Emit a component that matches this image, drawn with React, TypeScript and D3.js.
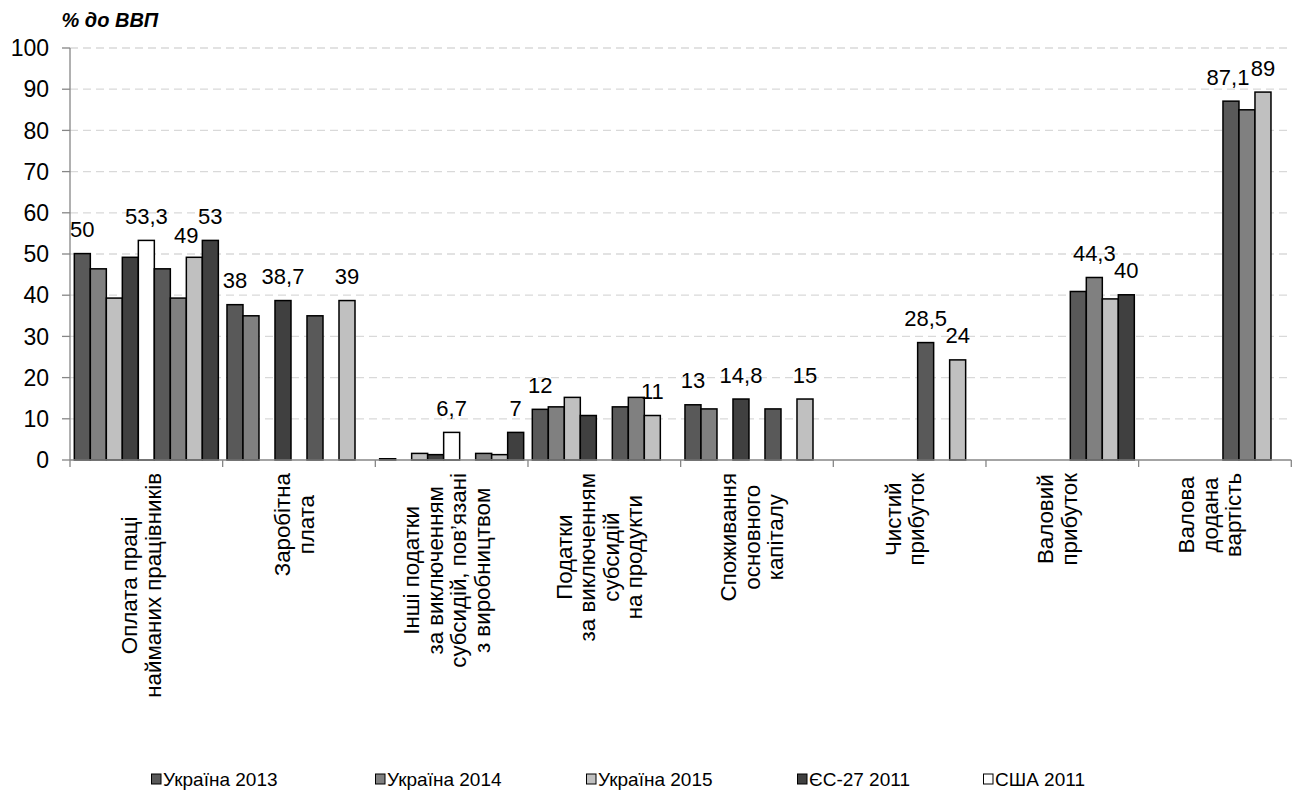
import React from "react";
import * as d3 from "d3";

// ---------- DATA ----------
const categories: string[][] = [
  ["Оплата праці", "найманих працівників"],
  ["Заробітна", "плата"],
  ["Інші податки", "за виключенням", "субсидій, пов’язані", "з виробництвом"],
  ["Податки", "за виключенням", "субсидій", "на продукти"],
  ["Споживання", "основного", "капіталу"],
  ["Чистий", "прибуток"],
  ["Валовий", "прибуток"],
  ["Валова", "додана", "вартість"],
];

const legendNames = ["Україна 2013", "Україна 2014", "Україна 2015", "ЄС-27 2011", "США 2011"];

// nine bar slots per category; slots 6-9 reuse the styles of series 1-4
const slot1 = [50.1, 37.7, 0.3, 12.3, 13.4, null, null, null];
const slot2 = [46.4, 35.0, null, 12.9, 12.4, null, null, null];
const slot3 = [39.3, null, 1.6, 15.2, null, null, null, null];
const slot4 = [49.2, 38.7, 1.3, 10.8, 14.8, null, null, null];
const slot5 = [53.3, null, 6.7, null, null, null, null, null];
const slot6 = [46.4, 35.0, null, 12.9, 12.4, 28.5, 40.9, 87.1];
const slot7 = [39.3, null, 1.6, 15.2, null, null, 44.3, 85.0];
const slot8 = [49.2, 38.7, 1.3, 10.8, 14.8, 24.3, 39.1, 89.3];
const slot9 = [53.3, null, 6.7, null, null, null, 40.1, null];
const slots: (number | null)[][] = [slot1, slot2, slot3, slot4, slot5, slot6, slot7, slot8, slot9];
const slotSeries = [0, 1, 2, 3, 4, 0, 1, 2, 3];

const labelCats = [0, 0, 0, 0, 1, 1, 1, 2, 2, 3, 3, 4, 4, 4, 5, 5, 6, 6, 7, 7];
const labelSlots = [0, 4, 7, 8, 0, 3, 7, 4, 8, 0, 7, 0, 3, 7, 5, 7, 6, 8, 5, 7];
const labelTexts = ["50", "53,3", "49", "53", "38", "38,7", "39", "6,7", "7", "12", "11", "13", "14,8", "15", "28,5", "24", "44,3", "40", "87,1", "89"];

const yTicks = [0, 10, 20, 30, 40, 50, 60, 70, 80, 90, 100];

// ---------- STYLE / LAYOUT ----------
const fills = ["#595959", "#808080", "#c0c0c0", "#404040", "#ffffff"];
const FONT = "'Liberation Sans', Arial, Helvetica, sans-serif";
// manual nudges of a few data labels (index -> [dx, dy])
const labelNudge: Record<number, [number, number]> = { 2: [-8, 2.5], 18: [-3, 0] };

function measure(text: string, size: number) {
  const c = document.createElement("canvas").getContext("2d")!;
  c.font = `${size}px 'Liberation Sans', Arial, sans-serif`;
  return c.measureText(text).width;
}

export default function App() {
  const W = 1298, H = 803;
  const left = 70, right = 1291.3, top = 48, bottom = 460;
  const y = d3.scaleLinear().domain([0, 100]).range([bottom, top]);
  const x = d3.scaleBand<number>().domain(d3.range(categories.length)).range([left, right]).paddingInner(0).paddingOuter(0);
  const xi = d3.scaleBand<number>().domain(d3.range(slots.length)).range([0, x.bandwidth()]).paddingInner(0).paddingOuter(0.27);

  const catFs = 22.3;
  const lineH = 23.5;
  const legendX = [151, 375, 586, 797, 983];

  return (
    <svg width={W} height={H} style={{ position: "absolute", left: 0, top: 0, background: "#fff" }} fontFamily={FONT}>
      <rect width={W} height={H} fill="#fff" />
      {/* title */}
      <text x={61.5} y={26.5} fontSize={20} fontWeight="bold" fontStyle="italic" fill="#000">% до ВВП</text>
      {/* gridlines */}
      {yTicks.filter((t) => t > 0).map((t) => (
        <line key={"g" + t} x1={left} x2={right} y1={y(t)} y2={y(t)} stroke="#d9d9d9" strokeWidth={1.3} strokeDasharray="8,5" />
      ))}
      {/* y axis */}
      <line x1={left} x2={left} y1={top} y2={bottom} stroke="#868686" strokeWidth={1.3} />
      {yTicks.map((t) => (
        <g key={"t" + t}>
          <line x1={62} x2={left} y1={y(t)} y2={y(t)} stroke="#868686" strokeWidth={1.3} />
          <text x={49} y={y(t)} dy="0.36em" textAnchor="end" fontSize={23} fill="#000">{t}</text>
        </g>
      ))}
      {/* bars */}
      {slots.map((vals, si) =>
        vals.map((v, ci) =>
          v == null ? null : (
            <rect key={`b${si}-${ci}`} x={x(ci)! + xi(si)!} width={xi.bandwidth()} y={y(v)} height={y(0) - y(v)}
              fill={fills[slotSeries[si]]} stroke="#000" strokeWidth={1.5} />
          )
        )
      )}
      {/* x axis */}
      <line x1={left} x2={right} y1={bottom} y2={bottom} stroke="#868686" strokeWidth={1.3} />
      {d3.range(categories.length + 1).map((i) => {
        const xx = left + i * x.step();
        return <line key={"xt" + i} x1={xx} x2={xx} y1={bottom} y2={bottom + 7} stroke="#868686" strokeWidth={1.3} />;
      })}
      {/* data labels */}
      {labelTexts.map((t, i) => {
        const ci = labelCats[i], si = labelSlots[i];
        const v = slots[si][ci] as number;
        const [dx, dy] = labelNudge[i] || [0, 0];
        const cx = x(ci)! + xi(si)! + xi.bandwidth() / 2 + dx;
        return <text key={"l" + i} x={cx} y={y(v) - 16.5 + dy} textAnchor="middle" fontSize={22} fill="#000">{t}</text>;
      })}
      {/* category labels */}
      {categories.map((lines, ci) => {
        const cx = x(ci)! + x.bandwidth() / 2 - 5;
        const maxLen = Math.max(...lines.map((l) => measure(l, catFs)));
        const cy = 473 + maxLen / 2;
        const n = lines.length;
        return (
          <g key={"c" + ci} transform={`translate(0,${cy}) rotate(-90)`}>
            {lines.map((l, li) => (
              <text key={li} x={0} y={cx + 0.35 * catFs + (li - (n - 1) / 2) * lineH} textAnchor="middle" fontSize={catFs} fill="#000">{l}</text>
            ))}
          </g>
        );
      })}
      {/* legend */}
      {legendNames.map((name, i) => (
        <g key={"lg" + i} transform={`translate(${legendX[i]},779)`}>
          <rect x={0.5} y={-5} width={9.5} height={10} fill={fills[i]} stroke="#000" strokeWidth={1} />
          <text x={12} y={7} fontSize={19} fill="#000">{name}</text>
        </g>
      ))}
    </svg>
  );
}
